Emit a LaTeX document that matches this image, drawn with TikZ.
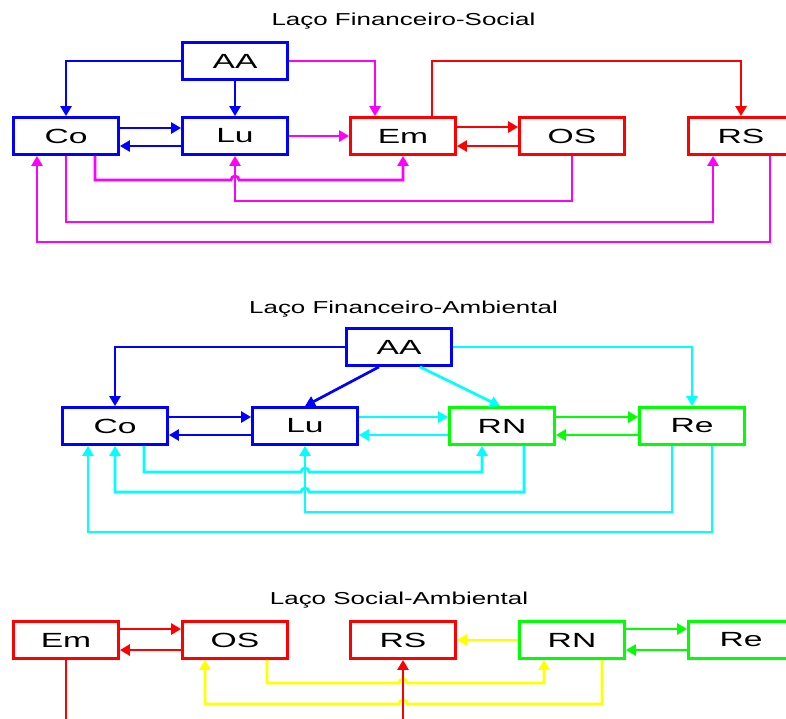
\documentclass[tikz,border=0pt]{standalone}
\usepackage{fontspec}
\setmainfont{Liberation Sans}
\usetikzlibrary{arrows.meta}
\definecolor{cblue}{RGB}{0,0,255}
\definecolor{cmag}{RGB}{255,0,255}
\definecolor{cred}{RGB}{255,0,0}
\definecolor{ccyan}{RGB}{0,255,255}
\definecolor{cgreen}{RGB}{0,255,0}
\definecolor{cyel}{RGB}{255,255,0}
\newcommand{\bt}[1]{\scalebox{1.64}[1]{#1}}
\newcommand{\ttl}[1]{\scalebox{1.5}[1]{#1}}
\begin{document}
\begin{tikzpicture}[x=1pt,y=-1pt,
  box/.style={draw=#1,line width=2.8pt,fill=white,minimum width=105pt,minimum height=37pt,inner sep=0pt,text=black,font=\fontsize{20.5}{23}\selectfont},
  ttlnode/.style={font=\fontsize{17.3}{20}\selectfont,anchor=base,inner sep=0pt},
  conn/.style={line width=2.7pt,-{Triangle[length=10pt,width=11pt]}},
  plain/.style={line width=2.7pt},
]
\useasboundingbox (0,0) rectangle (786,718);
\clip (0,0) rectangle (786,718);

% titles
\node[ttlnode] (t1) at (403.5,25) {\ttl{Laço Financeiro-Social}};
\node[ttlnode] (t2) at (403.5,313) {\ttl{Laço Financeiro-Ambiental}};
\node[ttlnode] (t3) at (399,604) {\ttl{Laço Social-Ambiental}};

% section 1
\node[box=cblue] (AA1) at (235,61) {\bt{AA}};
\node[box=cblue] (Co1) at (66,136) {\bt{Co}};
\node[box=cblue] (Lu1) at (235,136) {\bt{Lu}};
\node[box=cred] (Em1) at (403,136) {\bt{Em}};
\node[box=cred] (OS1) at (572,136) {\bt{OS}};
\node[box=cred] (RS1) at (741,136) {\bt{RS}};

\draw[conn,cblue] (AA1.west) -| (Co1.north);
\draw[conn,cblue] (AA1.south) -- (Lu1.north);
\draw[conn,cmag] (AA1.east) -| ([xshift=-28pt]Em1.north);
\draw[conn,cblue] ([yshift=8pt]Co1.east) -- ([yshift=8pt]Lu1.west);
\draw[conn,cblue] ([yshift=-10pt]Lu1.west) -- ([yshift=-10pt]Co1.east);
\draw[conn,cmag] (Lu1.east) -- (Em1.west);
\draw[conn,cred] ([yshift=9pt]Em1.east) -- ([yshift=9pt]OS1.west);
\draw[conn,cred] ([yshift=-10pt]OS1.west) -- ([yshift=-10pt]Em1.east);
\draw[conn,cred] ([xshift=29pt]Em1.north) |- (RS1.north |- AA1.east) -- (RS1.north);
\draw[conn,cmag] ([xshift=29pt]Co1.south) |- (231,180) arc[start angle=180,end angle=360,radius=4] -| (Em1.south);
\draw[conn,cmag] (OS1.south) |- (235,201) -- (Lu1.south);
\draw[conn,cmag] (Co1.south) |- (713,222) -- ([xshift=-28pt]RS1.south);
\draw[conn,cmag] ([xshift=29pt]RS1.south) |- (37,242) -- ([xshift=-29pt]Co1.south);

% section 2
\node[box=cblue] (AA2) at (399,347) {\bt{AA}};
\node[box=cblue] (Co2) at (115,426) {\bt{Co}};
\node[box=cblue] (Lu2) at (305,426) {\bt{Lu}};
\node[box=cgreen] (RN2) at (502,426) {\bt{RN}};
\node[box=cgreen] (Re2) at (692,426) {\bt{Re}};

\draw[conn,cblue] (AA2.west) -| (Co2.north);
\draw[conn,cblue] ([xshift=-20pt]AA2.south) -- (Lu2.north);
\draw[conn,ccyan] ([xshift=21pt]AA2.south) -- ([xshift=-2pt]RN2.north);
\draw[conn,ccyan] (AA2.east) -| (Re2.north);
\draw[conn,cblue] ([yshift=9pt]Co2.east) -- ([yshift=9pt]Lu2.west);
\draw[conn,cblue] ([yshift=-9pt]Lu2.west) -- ([yshift=-9pt]Co2.east);
\draw[conn,ccyan] ([yshift=9pt]Lu2.east) -- ([yshift=9pt]RN2.west);
\draw[conn,ccyan] ([yshift=-9pt]RN2.west) -- ([yshift=-9pt]Lu2.east);
\draw[conn,cgreen] ([yshift=9pt]RN2.east) -- ([yshift=9pt]Re2.west);
\draw[conn,cgreen] ([yshift=-9pt]Re2.west) -- ([yshift=-9pt]RN2.east);
\draw[conn,ccyan] ([xshift=29pt]Co2.south) |- (301,472) arc[start angle=180,end angle=360,radius=4] -| ([xshift=-20pt]RN2.south);
\draw[conn,ccyan] ([xshift=22pt]RN2.south) |- (309,492) arc[start angle=0,end angle=-180,radius=4] -| (Co2.south);
\draw[conn,ccyan] ([xshift=-20pt]Re2.south) |- (305,512) -- (Lu2.south);
\draw[conn,ccyan] ([xshift=20pt]Re2.south) |- (88,532) -- ([xshift=-27pt]Co2.south);

% section 3
\node[box=cred] (Em3) at (66,640) {\bt{Em}};
\node[box=cred] (OS3) at (235,640) {\bt{OS}};
\node[box=cred] (RS3) at (403,640) {\bt{RS}};
\node[box=cgreen] (RN3) at (572,640) {\bt{RN}};
\node[box=cgreen] (Re3) at (741,640) {\bt{Re}};

\draw[conn,cred] ([yshift=11pt]Em3.east) -- ([yshift=11pt]OS3.west);
\draw[conn,cred] ([yshift=-10pt]OS3.west) -- ([yshift=-10pt]Em3.east);
\draw[conn,cyel] (RN3.west) -- (RS3.east);
\draw[conn,cgreen] ([yshift=11pt]RN3.east) -- ([yshift=11pt]Re3.west);
\draw[conn,cgreen] ([yshift=-10pt]Re3.west) -- ([yshift=-10pt]RN3.east);
\draw[conn,cyel] ([xshift=32pt]OS3.south) |- (399,683) arc[start angle=180,end angle=360,radius=4] -| ([xshift=-28pt]RN3.south);
\draw[conn,cyel] ([xshift=30pt]RN3.south) |- (407,704) arc[start angle=0,end angle=-180,radius=4] -| ([xshift=-30pt]OS3.south);
\coordinate (emout) at (66,740);
\coordinate (rsin) at (403,740);
\draw[plain,cred] (Em3.south) -- (emout);
\draw[conn,cred] (rsin) -- (RS3.south);
\end{tikzpicture}
\end{document}
